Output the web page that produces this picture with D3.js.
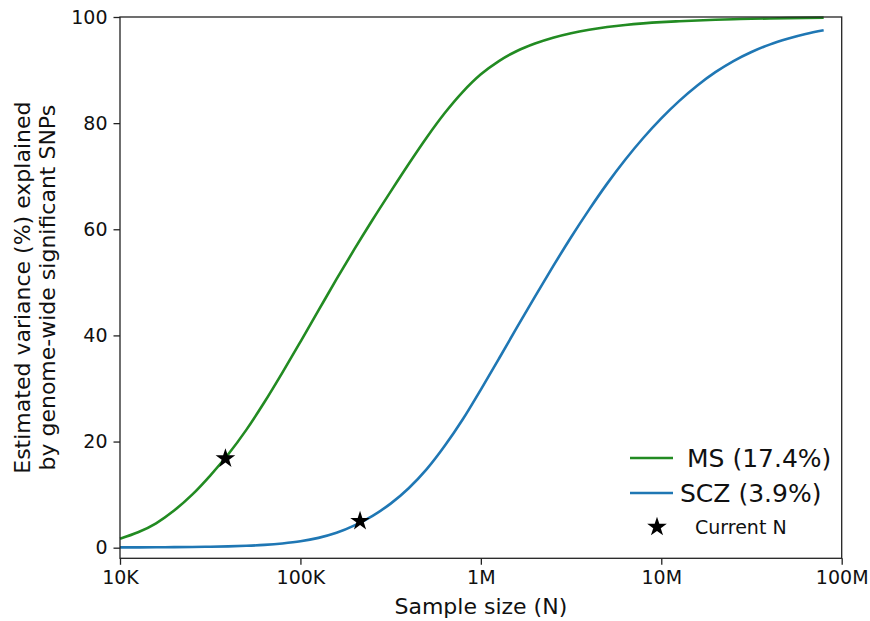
<!DOCTYPE html>
<html>
<head>
<meta charset="utf-8">
<script src="https://cdn.jsdelivr.net/npm/d3@7"></script>
<style>
  html, body { margin: 0; padding: 0; background: #fff; }
  svg { display: block; font-family: "DejaVu Sans", sans-serif; }
</style>
</head>
<body>
<svg id="chart" width="870" height="621"></svg>
<script>
// Sample sizes (N), log-spaced from 10K to ~80M
const sampleSizes = [
  10000, 12589, 15849, 19953, 25119, 31623, 39811, 50119, 63096, 79433,
  100000, 125893, 158489, 199526, 251189, 316228, 398107, 501187, 630957, 794328,
  1000000, 1258925, 1584893, 1995262, 2511886, 3162278, 3981072, 5011872, 6309573, 7943282,
  10000000, 12589254, 15848932, 19952623, 25118864, 31622777, 39810717, 50118723, 63095734, 79432823
];

// Estimated variance (%) explained by genome-wide significant SNPs
const msValues = [
  1.7, 2.9, 4.6, 7.0, 10.0, 13.6, 17.6, 22.2, 27.4, 33.0,
  38.8, 44.7, 50.6, 56.3, 61.8, 67.1, 72.3, 77.3, 81.9, 85.9,
  89.2, 91.7, 93.6, 95.0, 96.1, 96.95, 97.6, 98.1, 98.5, 98.8,
  99.03, 99.2, 99.35, 99.48, 99.58, 99.66, 99.73, 99.79, 99.84, 99.88
];
const sczValues = [
  0.05, 0.06, 0.08, 0.1, 0.13, 0.18, 0.25, 0.36, 0.53, 0.8,
  1.2, 1.85, 2.8, 4.2, 6.0, 8.3, 11.2, 14.8, 19.2, 24.2,
  29.8, 35.6, 41.5, 47.3, 53.0, 58.5, 63.7, 68.6, 73.1, 77.2,
  80.9, 84.2, 87.1, 89.6, 91.7, 93.4, 94.8, 95.9, 96.8, 97.5
];

// Current sample sizes and their estimated variance explained
const currentN = [
  { name: "MS", n: 38400, value: 16.8 },
  { name: "SCZ", n: 214000, value: 5.0 }
];

const seriesNames = ["MS (17.4%)", "SCZ (3.9%)"];
const seriesColors = ["#228b22", "#1f77b4"];
const xTickValues = [1e4, 1e5, 1e6, 1e7, 1e8];
const xTickLabels = ["10K", "100K", "1M", "10M", "100M"];
const yTickValues = [0, 20, 40, 60, 80, 100];

const svg = d3.select("#chart");
const plot = { left: 120, right: 841.7, top: 17, bottom: 558.3 };

const x = d3.scaleLog().domain([1e4, 1e8]).range([plot.left, plot.right]);
const y = d3.scaleLinear().domain([-2, 100]).range([plot.bottom, plot.top]);

// Curves
const series = [msValues, sczValues];
const line = d3.line()
  .x((d, i) => x(sampleSizes[i]))
  .y(d => y(d))
  .curve(d3.curveMonotoneX);

svg.append("g").selectAll("path")
  .data(series)
  .join("path")
  .attr("fill", "none")
  .attr("stroke", (d, i) => seriesColors[i])
  .attr("stroke-width", 2.6)
  .attr("d", line);

// Current N markers
const star = d3.symbol().type(d3.symbolStar).size(120);
svg.append("g").selectAll("path")
  .data(currentN)
  .join("path")
  .attr("transform", d => `translate(${x(d.n)},${y(d.value)})`)
  .attr("d", star)
  .attr("fill", "#000");

// Axes
const xAxis = d3.axisBottom(x)
  .tickValues(xTickValues)
  .tickFormat((d, i) => xTickLabels[i])
  .tickSizeOuter(0)
  .tickSize(6.5)
  .tickPadding(6);
const yAxis = d3.axisLeft(y)
  .tickValues(yTickValues)
  .tickFormat(d3.format("d"))
  .tickSizeOuter(0)
  .tickSize(6.5)
  .tickPadding(6);

const gx = svg.append("g")
  .attr("transform", `translate(0,${plot.bottom})`)
  .call(xAxis);
const gy = svg.append("g")
  .attr("transform", `translate(${plot.left},0)`)
  .call(yAxis);

[gx, gy].forEach(g => {
  g.select(".domain").remove();
  g.selectAll(".tick line").attr("stroke", "#222").attr("stroke-width", 1.3);
  g.selectAll(".tick text")
    .attr("fill", "#111")
    .style("font-family", "DejaVu Sans, sans-serif")
    .style("font-size", "19px");
});

// Frame
svg.append("rect")
  .attr("x", plot.left)
  .attr("y", plot.top)
  .attr("width", plot.right - plot.left)
  .attr("height", plot.bottom - plot.top)
  .attr("fill", "none")
  .attr("stroke", "#222")
  .attr("stroke-width", 1.3);

// Axis titles
svg.append("text")
  .attr("x", (plot.left + plot.right) / 2)
  .attr("y", 614)
  .attr("text-anchor", "middle")
  .attr("fill", "#111")
  .style("font-size", "22px")
  .text("Sample size (N)");

const yTitle = svg.append("text")
  .attr("transform", `translate(0,${(plot.top + plot.bottom) / 2}) rotate(-90)`)
  .attr("text-anchor", "middle")
  .attr("fill", "#111")
  .style("font-size", "22px");
yTitle.append("tspan").attr("x", 0).attr("y", 30).text("Estimated variance (%) explained");
yTitle.append("tspan").attr("x", 0).attr("y", 55).text("by genome-wide significant SNPs");

// Legend
const legend = svg.append("g");
seriesNames.forEach((name, i) => {
  const ly = 458 + i * 35;
  legend.append("line")
    .attr("x1", 630).attr("x2", 673)
    .attr("y1", ly).attr("y2", ly)
    .attr("stroke", seriesColors[i])
    .attr("stroke-width", 2.6);
  legend.append("text")
    .attr("x", i === 0 ? 687 : 680)
    .attr("y", ly)
    .attr("dy", "0.35em")
    .attr("fill", "#111")
    .style("font-size", "25px")
    .text(name);
});
legend.append("path")
  .attr("transform", "translate(657,527)")
  .attr("d", star)
  .attr("fill", "#000");
legend.append("text")
  .attr("x", 695)
  .attr("y", 527)
  .attr("dy", "0.35em")
  .attr("fill", "#111")
  .style("font-size", "19px")
  .text("Current N");
</script>
</body>
</html>
